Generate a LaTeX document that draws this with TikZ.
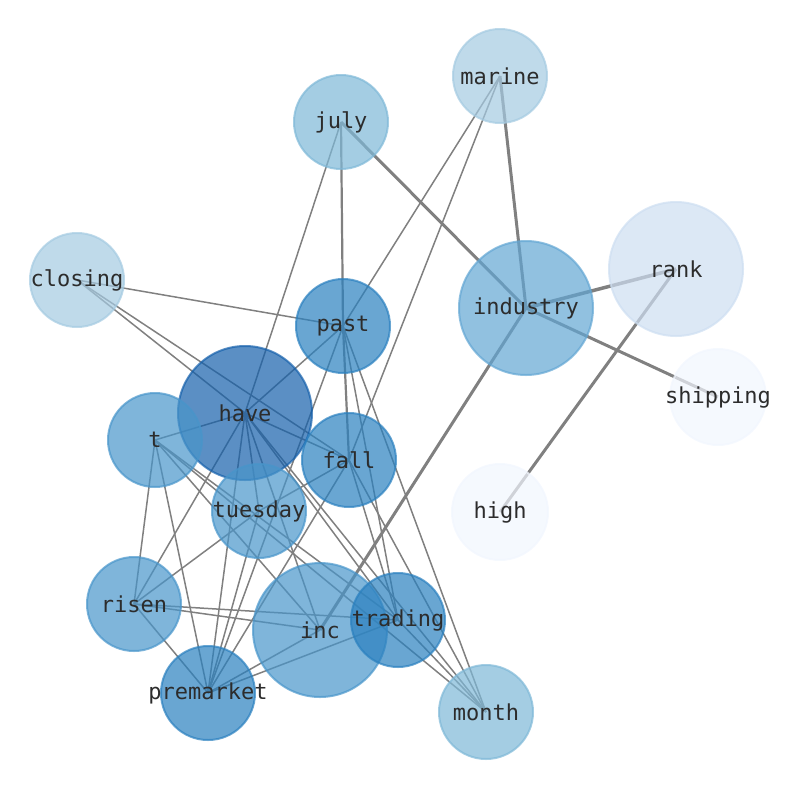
\documentclass[tikz,border=0pt]{standalone}
\usepackage{fontspec}
\setmonofont{DejaVu Sans Mono}

\definecolor{edgegrey}{RGB}{128,128,128}
\definecolor{labelgrey}{RGB}{44,44,44}
\definecolor{bA}{RGB}{21,96,171}
\definecolor{bB}{RGB}{42,128,191}
\definecolor{bC}{RGB}{72,149,202}
\definecolor{bD}{RGB}{98,166,211}
\definecolor{bE}{RGB}{126,184,215}
\definecolor{bF}{RGB}{164,202,225}
\definecolor{bG}{RGB}{205,222,241}
\definecolor{bH}{RGB}{241,246,254}

\begin{document}
\begin{tikzpicture}[x=1pt,y=-1pt,
    link/.style={draw=edgegrey, line width=1.5pt},
    heavy/.style={draw=edgegrey, line width=3pt},
    word/.style={fill=#1, draw=#1, fill opacity=0.7, draw opacity=0.7, line width=2pt},
    lbl/.style={text=labelgrey, font=\ttfamily\fontsize{22}{22}\selectfont}]
    \useasboundingbox (0,0) rectangle (794,790);

    \coordinate (marine) at (500,76);
    \coordinate (july) at (341,122);
    \coordinate (closing) at (77,280);
    \coordinate (past) at (343,326);
    \coordinate (industry) at (526,308);
    \coordinate (rank) at (676,269);
    \coordinate (shipping) at (718,397);
    \coordinate (have) at (245,413);
    \coordinate (t) at (155,440);
    \coordinate (fall) at (349,460);
    \coordinate (tuesday) at (259,511);
    \coordinate (high) at (500,512);
    \coordinate (risen) at (134,604);
    \coordinate (inc) at (320,630);
    \coordinate (trading) at (398,620);
    \coordinate (premarket) at (208,693);
    \coordinate (month) at (486,712);

    % weighted links
    \draw[heavy] (july) -- (industry);
    \draw[heavy] (marine) -- (industry);
    \draw[heavy, line width=3.5pt] (industry) -- (rank);
    \draw[heavy] (industry) -- (shipping);
    \draw[heavy] (industry) -- (inc);
    \draw[heavy] (rank) -- (high);
    \draw[heavy, line width=2.2pt] (july) -- (past);
    \draw[heavy, line width=2.2pt] (past) -- (fall);

    % plain links
    \foreach \a/\b in {july/have, marine/past, marine/fall,
        closing/past, closing/have, closing/fall,
        have/past, have/t, have/fall, have/tuesday, have/risen,
        have/premarket, have/inc, have/trading, have/month,
        t/risen, t/premarket, t/inc, t/trading, t/month,
        past/premarket, past/trading, past/month,
        fall/tuesday, fall/premarket, fall/trading, fall/month,
        tuesday/risen, tuesday/premarket,
        risen/inc, risen/trading, risen/premarket,
        premarket/inc, premarket/trading, trading/month}
        \draw[link] (\a) -- (\b);

    % word circles
    \draw[word=bF] (marine) circle (47);
    \draw[word=bE] (july) circle (47);
    \draw[word=bF] (closing) circle (47);
    \draw[word=bB] (past) circle (47);
    \draw[word=bD] (industry) circle (67);
    \draw[word=bG] (rank) circle (67);
    \draw[word=bH] (shipping) circle (48);
    \draw[word=bA] (have) circle (67);
    \draw[word=bC] (t) circle (47);
    \draw[word=bB] (fall) circle (47);
    \draw[word=bC] (tuesday) circle (47);
    \draw[word=bH] (high) circle (48);
    \draw[word=bC] (risen) circle (47);
    \draw[word=bC] (inc) circle (67);
    \draw[word=bB] (trading) circle (47);
    \draw[word=bB] (premarket) circle (47);
    \draw[word=bE] (month) circle (47);

    \foreach \w in {marine, july, closing, past, industry, rank, shipping,
        have, t, fall, tuesday, high, risen, inc, trading, premarket, month}
        \node[lbl] at (\w) {\w};
\end{tikzpicture}
\end{document}
